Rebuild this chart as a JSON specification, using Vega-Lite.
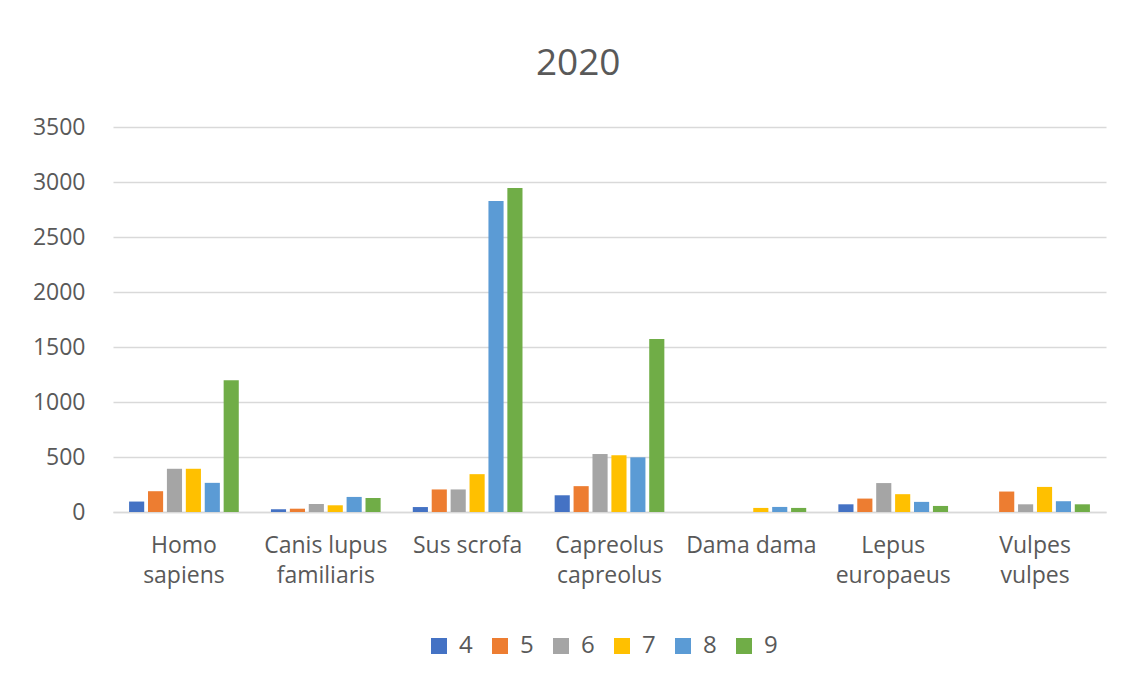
{
  "$schema": "https://vega.github.io/schema/vega-lite/v6.json",
  "width": 993,
  "height": 385,
  "autosize": {"type": "none"},
  "padding": {"left": 113, "top": 127, "right": 25, "bottom": 172},
  "background": "white",
  "title": {
    "text": "2020",
    "fontSize": 37,
    "font": "Open Sans",
    "fontWeight": "normal",
    "color": "#595959",
    "anchor": "middle",
    "frame": "bounds",
    "offset": 33,
    "dx": 9
  },
  "data": {
    "values": [
      {"species": "Homo sapiens", "month": "4", "count": 95},
      {"species": "Homo sapiens", "month": "5", "count": 189},
      {"species": "Homo sapiens", "month": "6", "count": 393},
      {"species": "Homo sapiens", "month": "7", "count": 393},
      {"species": "Homo sapiens", "month": "8", "count": 265},
      {"species": "Homo sapiens", "month": "9", "count": 1198},
      {"species": "Canis lupus familiaris", "month": "4", "count": 25},
      {"species": "Canis lupus familiaris", "month": "5", "count": 30},
      {"species": "Canis lupus familiaris", "month": "6", "count": 73},
      {"species": "Canis lupus familiaris", "month": "7", "count": 61},
      {"species": "Canis lupus familiaris", "month": "8", "count": 137},
      {"species": "Canis lupus familiaris", "month": "9", "count": 128},
      {"species": "Sus scrofa", "month": "4", "count": 45},
      {"species": "Sus scrofa", "month": "5", "count": 205},
      {"species": "Sus scrofa", "month": "6", "count": 205},
      {"species": "Sus scrofa", "month": "7", "count": 344},
      {"species": "Sus scrofa", "month": "8", "count": 2828},
      {"species": "Sus scrofa", "month": "9", "count": 2946},
      {"species": "Capreolus capreolus", "month": "4", "count": 152},
      {"species": "Capreolus capreolus", "month": "5", "count": 235},
      {"species": "Capreolus capreolus", "month": "6", "count": 527},
      {"species": "Capreolus capreolus", "month": "7", "count": 515},
      {"species": "Capreolus capreolus", "month": "8", "count": 497},
      {"species": "Capreolus capreolus", "month": "9", "count": 1572},
      {"species": "Dama dama", "month": "4", "count": 0},
      {"species": "Dama dama", "month": "5", "count": 0},
      {"species": "Dama dama", "month": "6", "count": 0},
      {"species": "Dama dama", "month": "7", "count": 37},
      {"species": "Dama dama", "month": "8", "count": 46},
      {"species": "Dama dama", "month": "9", "count": 37},
      {"species": "Lepus europaeus", "month": "4", "count": 70},
      {"species": "Lepus europaeus", "month": "5", "count": 122},
      {"species": "Lepus europaeus", "month": "6", "count": 263},
      {"species": "Lepus europaeus", "month": "7", "count": 162},
      {"species": "Lepus europaeus", "month": "8", "count": 92},
      {"species": "Lepus europaeus", "month": "9", "count": 55},
      {"species": "Vulpes vulpes", "month": "4", "count": 0},
      {"species": "Vulpes vulpes", "month": "5", "count": 186},
      {"species": "Vulpes vulpes", "month": "6", "count": 70},
      {"species": "Vulpes vulpes", "month": "7", "count": 228},
      {"species": "Vulpes vulpes", "month": "8", "count": 98},
      {"species": "Vulpes vulpes", "month": "9", "count": 70}
    ]
  },
  "mark": {"type": "bar"},
  "encoding": {
    "x": {
      "field": "species",
      "type": "nominal",
      "sort": null,
      "scale": {"paddingInner": 0.2, "paddingOuter": 0.1},
      "axis": {
        "title": null,
        "labelAngle": 0,
        "labelFontSize": 23,
        "labelFont": "Open Sans",
        "labelColor": "#595959",
        "labelLineHeight": 30,
        "labelPadding": 22,
        "labelLimit": 200,
        "ticks": false,
        "domainColor": "#D9D9D9",
        "domainWidth": 1.5,
        "grid": false,
        "labelExpr": "datum.value == 'Homo sapiens' ? ['Homo', 'sapiens'] : datum.value == 'Canis lupus familiaris' ? ['Canis lupus', 'familiaris'] : datum.value == 'Capreolus capreolus' ? ['Capreolus', 'capreolus'] : datum.value == 'Lepus europaeus' ? ['Lepus', 'europaeus'] : datum.value == 'Vulpes vulpes' ? ['Vulpes', 'vulpes'] : datum.value"
      }
    },
    "xOffset": {
      "field": "month",
      "type": "nominal",
      "scale": {"paddingInner": 0.2, "paddingOuter": 0.1}
    },
    "y": {
      "field": "count",
      "type": "quantitative",
      "scale": {"domain": [0, 3500], "nice": false},
      "axis": {
        "title": null,
        "format": "d",
        "values": [0, 500, 1000, 1500, 2000, 2500, 3000, 3500],
        "labelFontSize": 23,
        "labelFont": "Open Sans",
        "labelColor": "#595959",
        "labelPadding": 28,
        "ticks": false,
        "domain": false,
        "gridColor": "#D9D9D9",
        "gridWidth": 1.3
      }
    },
    "color": {
      "field": "month",
      "type": "nominal",
      "scale": {
        "domain": ["4", "5", "6", "7", "8", "9"],
        "range": ["#4472C4", "#ED7D31", "#A5A5A5", "#FFC000", "#5B9BD5", "#70AD47"]
      },
      "legend": {
        "title": null,
        "orient": "none",
        "direction": "horizontal",
        "legendX": 314,
        "legendY": 507,
        "symbolType": "square",
        "symbolSize": 256,
        "symbolStrokeWidth": 0,
        "labelFontSize": 24,
        "labelFont": "Open Sans",
        "labelColor": "#595959",
        "labelOffset": 8,
        "columnPadding": 15
      }
    }
  },
  "config": {
    "view": {"stroke": null}
  }
}
